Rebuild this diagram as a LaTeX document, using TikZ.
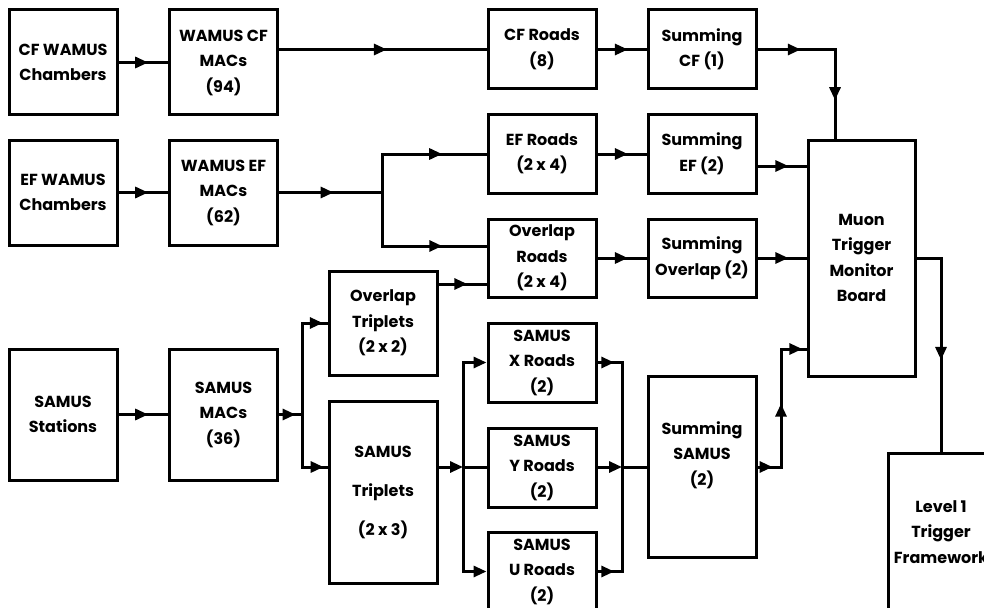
\documentclass[tikz,border=0pt]{standalone}
\usepackage{fontspec}
\setmainfont{Poppins}
\usetikzlibrary{arrows.meta,decorations.markings}
\tikzset{
  box/.style={draw, line width=3pt, inner sep=0pt, align=center,
    font=\fontsize{16}{25.5}\selectfont\bfseries},
  txt/.style={inner sep=0pt, align=center, font=\fontsize{16}{25.5}\selectfont\bfseries},
  link/.style={line width=3pt},
  arrat/.style={postaction={decorate, decoration={markings,
    mark=at position #1 with {\arrow{>}}}}},
  wide/.style={minimum width=108pt},
}
\begin{document}
\begin{tikzpicture}[x=1pt, y=-1pt, >={Triangle[length=13pt,width=11pt]}]
\useasboundingbox (0,0) rectangle (984,607);
\fill[white] (0,0) rectangle (984,607);
\clip (0,0) rectangle (984,607);

% boxes
\node[box, wide, minimum height=105pt] (cfch)   at (63,62.5)   {CF WAMUS\\Chambers};
\node[box, wide, minimum height=105pt] (cfmac)  at (223.5,62.5) {WAMUS CF\\MACs\\(94)};
\node[box, wide, minimum height=105pt] (efch)   at (63,192.5)  {EF WAMUS\\Chambers};
\node[box, wide, minimum height=105pt] (efmac)  at (223.5,192.5) {WAMUS EF\\MACs\\(62)};
\node[box, wide, minimum height=79pt]  (cfroads) at (542,49.5) {CF Roads\\(8)};
\node[box, wide, minimum height=78pt]  (efroads) at (542,154)  {EF Roads\\(2 x 4)};
\node[box, wide, minimum height=78pt]  (ovroads) at (542,258)  {Overlap\\Roads\\(2 x 4)};
\node[box, wide, minimum height=79pt]  (sumcf)  at (702,49.5)  {Summing\\CF (1)};
\node[box, wide, minimum height=78pt]  (sumef)  at (702,154)   {Summing\\EF (2)};
\node[box, wide, minimum height=78pt]  (sumov)  at (702,258)   {Summing\\Overlap (2)};
\node[box, minimum width=107pt, minimum height=236pt] (muon) at (861.5,258) {Muon\\Trigger\\Monitor\\Board};
\node[box, minimum width=106pt, minimum height=158pt] (l1) at (941,532) {Level 1\\Trigger\\Framework};
\node[box, wide, minimum height=131pt] (samst)  at (63,414.5)  {SAMUS\\Stations};
\node[box, wide, minimum height=131pt] (sammac) at (223.5,414.5) {SAMUS\\MACs\\(36)};
\node[box, wide, minimum height=104pt] (ovtrip) at (383,323)   {Overlap\\Triplets\\(2 x 2)};
\node[box, wide, minimum height=182pt] (samtrip) at (383,492)  {SAMUS\\[13.5pt]Triplets\\[13.5pt](2 x 3)};
\node[box, wide, minimum height=79pt]  (xroads) at (542,362.5) {SAMUS\\X Roads\\(2)};
\node[box, wide, minimum height=79pt]  (yroads) at (542,467.5) {SAMUS\\Y Roads\\(2)};
\node[box, wide, minimum height=79pt]  (uroads) at (542,571.5) {SAMUS\\U Roads\\(2)};
\node[box, wide, minimum height=181pt] (sumsam) at (702,466.5) {};
\node[txt] (sumsamt) at (702,455) {Summing\\SAMUS\\(2)};

% junction points
\coordinate (efsplit) at (382,192.5);
\coordinate (samsplit) at (302,414.5);
\coordinate (tsplit) at (463,467);
\coordinate (merge) at (622,467);
\coordinate (sbend1) at (781,467);
\coordinate (sbend2) at (781,349);

% connectors
\draw[link, arrat=0.6] (cfch) -- (cfmac);
\draw[link, arrat=0.52] (cfmac.east |- cfroads.west) -- (cfroads.west);
\draw[link, arrat=0.6] (efch) -- (efmac);
\draw[link, arrat=0.53] (efmac.east) -- (efsplit);
\draw[link, arrat=0.69] (efsplit) |- (efroads.west);
\draw[link, arrat=0.72] (efsplit) |- (ovroads.west |- 0,246);
\draw[link, arrat=0.62] (cfroads) -- (sumcf);
\draw[link, arrat=0.62] (efroads) -- (sumef);
\draw[link, arrat=0.62] (ovroads) -- (sumov);
\draw[link, arrat=0.26, arrat=0.77] (sumcf.east) -| ([xshift=-26.5pt]muon.north);
\draw[link, arrat=0.63] (sumef.east |- 0,166) -- (muon.west |- 0,166);
\draw[link, arrat=0.63] (sumov) -- (muon);
\draw[link, arrat=0.58] (muon.east) -| (l1.north);
\draw[link, arrat=0.6] (ovtrip.east |- 0,284) -- (ovroads.west |- 0,284);
\draw[link, arrat=0.6] (samst) -- (sammac);
\draw[link, arrat=0.72] (sammac.east) -- (samsplit);
\draw[link, arrat=0.96] (samsplit) |- (ovtrip.west);
\draw[link, arrat=0.95] (samsplit) |- (samtrip.west |- tsplit);
\draw[link, ->] (samtrip.east |- tsplit) -- (tsplit);
\draw[link, ->] (tsplit) |- (xroads.west);
\draw[link] (tsplit) -- (yroads.west |- tsplit);
\draw[link, ->] (tsplit) |- (uroads.west);
\draw[link, arrat=0.13] (xroads.east) -| (merge);
\draw[link, arrat=0.13] (uroads.east) -| (merge);
\draw[link, ->] (yroads.east |- merge) -- (merge);
\draw[link] (merge) -- (sumsam.west |- merge);
\draw[link, arrat=0.09, arrat=0.52, arrat=0.975] (sumsam.east |- sbend1) -- (sbend1) -- (sbend2) -- (muon.west |- sbend2);
\end{tikzpicture}
\end{document}
